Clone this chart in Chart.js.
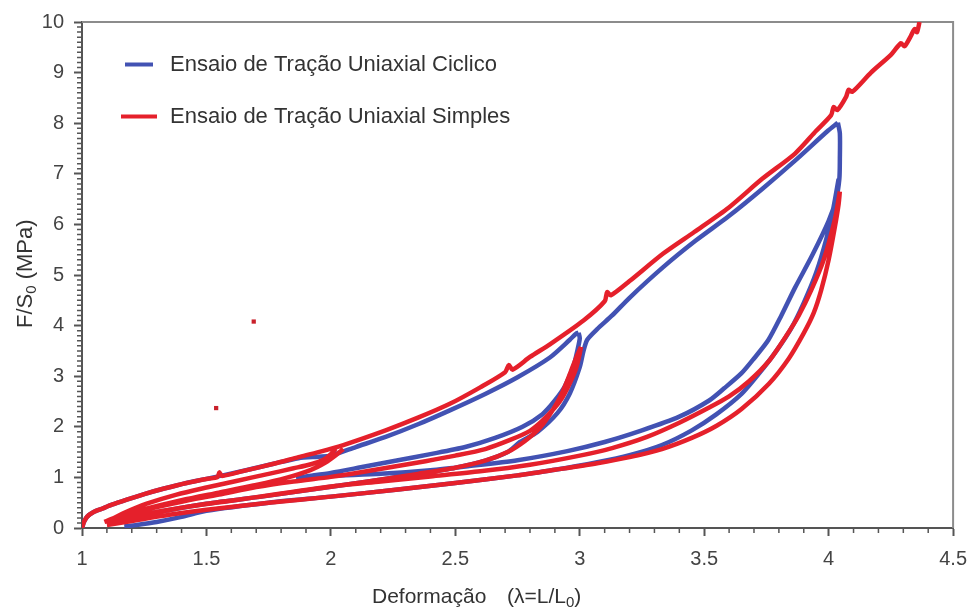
<!DOCTYPE html>
<html>
<head>
<meta charset="utf-8">
<script src="https://cdn.jsdelivr.net/npm/chart.js@4.4.1/dist/chart.umd.min.js"></script>
<style>
  html, body { margin: 0; padding: 0; background: #fff; }
  canvas { display: block; }
</style>
</head>
<body>
<canvas id="chart" width="978" height="608"></canvas>
<script>
// ---- Tick values ----
const xTickValues = [1, 1.5, 2, 2.5, 3, 3.5, 4, 4.5];
const yTickValues = [0, 1, 2, 3, 4, 5, 6, 7, 8, 9, 10];

// ---- Series labels ----
const cyclicLabel = 'Ensaio de Tração Uniaxial Ciclico';
const simpleLabel = 'Ensaio de Tração Uniaxial Simples';

// ---- Simple tensile test: monotonic loading curve [λ, F/S0] ----
const redEnvelope = [
  [1.000, 0.00], [1.008, 0.12], [1.02, 0.22], [1.045, 0.31], [1.08, 0.38], [1.12, 0.46],
  [1.18, 0.56], [1.25, 0.67], [1.33, 0.78], [1.42, 0.89], [1.50, 0.97], [1.545, 1.01],
  [1.552, 1.10], [1.562, 1.03], [1.65, 1.13], [1.77, 1.27], [1.87, 1.40], [1.95, 1.50],
  [2.05, 1.64], [2.22, 1.93], [2.35, 2.18], [2.48, 2.46], [2.60, 2.78], [2.70, 3.08],
  [2.715, 3.22], [2.73, 3.13], [2.80, 3.38], [2.88, 3.63], [3.015, 4.10], [3.10, 4.48],
  [3.11, 4.66], [3.125, 4.60], [3.20, 4.88], [3.334, 5.42], [3.46, 5.85], [3.598, 6.33],
  [3.733, 6.90], [3.865, 7.40], [3.95, 7.85], [4.01, 8.16], [4.02, 8.32], [4.035, 8.26],
  [4.07, 8.52], [4.08, 8.66], [4.095, 8.62], [4.17, 9.00], [4.25, 9.35], [4.29, 9.58],
  [4.305, 9.52], [4.33, 9.72], [4.345, 9.86], [4.355, 9.80], [4.365, 10.0]
];
// unloading / reloading branches of the simple test
const redLoop2Down = [
  [2.02, 1.57], [2.0, 1.46], [1.97, 1.35], [1.92, 1.26], [1.85, 1.18], [1.75, 1.07],
  [1.62, 0.93], [1.5, 0.80], [1.38, 0.66], [1.26, 0.48], [1.17, 0.30], [1.12, 0.18], [1.09, 0.12]
];
const redLoop2Up = [
  [1.09, 0.12], [1.15, 0.22], [1.25, 0.37], [1.4, 0.55], [1.55, 0.70], [1.7, 0.85],
  [1.82, 0.99], [1.92, 1.15], [1.98, 1.30], [2.02, 1.44], [2.05, 1.56]
];
const redUnload3 = [
  [3.005, 3.58], [3.0, 3.45], [2.985, 3.15], [2.96, 2.86], [2.93, 2.58], [2.90, 2.38],
  [2.85, 2.12], [2.80, 1.92], [2.72, 1.74], [2.62, 1.56], [2.50, 1.43], [2.38, 1.32],
  [2.25, 1.21], [2.12, 1.10], [2.0, 1.01], [1.85, 0.92], [1.7, 0.81], [1.55, 0.66],
  [1.4, 0.52], [1.28, 0.39], [1.18, 0.24], [1.12, 0.14], [1.10, 0.10]
];
const redReload3 = [
  [1.10, 0.08], [1.18, 0.18], [1.3, 0.31], [1.5, 0.48], [1.75, 0.64], [1.95, 0.78],
  [2.15, 0.92], [2.35, 1.07], [2.5, 1.19], [2.62, 1.33], [2.71, 1.50], [2.78, 1.72],
  [2.84, 1.98], [2.89, 2.32], [2.93, 2.68], [2.96, 3.04], [2.985, 3.36], [3.005, 3.58]
];
const redUnload4 = [
  [4.045, 6.65], [4.025, 6.10], [3.98, 5.30], [3.93, 4.70], [3.88, 4.20], [3.83, 3.80],
  [3.76, 3.30], [3.68, 2.90], [3.60, 2.60], [3.52, 2.38], [3.40, 2.08], [3.27, 1.80],
  [3.13, 1.58], [2.99, 1.42], [2.8, 1.25], [2.6, 1.12], [2.4, 1.02], [2.2, 0.92],
  [2.0, 0.82], [1.8, 0.68], [1.6, 0.54], [1.4, 0.40], [1.25, 0.27], [1.15, 0.16], [1.10, 0.11]
];
const redReload4 = [
  [1.10, 0.06], [1.2, 0.14], [1.35, 0.26], [1.5, 0.36], [1.75, 0.50], [2.0, 0.62],
  [2.27, 0.76], [2.5, 0.89], [2.75, 1.04], [2.9, 1.15], [3.07, 1.28], [3.2, 1.40],
  [3.33, 1.56], [3.45, 1.78], [3.55, 2.02], [3.65, 2.35], [3.76, 2.85], [3.84, 3.35],
  [3.90, 3.85], [3.94, 4.25], [3.97, 4.70], [4.0, 5.30], [4.025, 5.95], [4.04, 6.40], [4.045, 6.65]
];
// isolated readings of the simple test
const redStrayPoints = [[1.539, 2.37], [1.690, 4.08]];

// ---- Cyclic tensile test [λ, F/S0] ----
const blueLoad = [
  [1.000, 0.00], [1.008, 0.12], [1.02, 0.22], [1.045, 0.31], [1.08, 0.38], [1.12, 0.46],
  [1.18, 0.56], [1.25, 0.67], [1.33, 0.78], [1.42, 0.89], [1.50, 0.97], [1.65, 1.13],
  [1.77, 1.27], [1.87, 1.38], [1.95, 1.41], [2.0, 1.43], [2.1, 1.60], [2.22, 1.80],
  [2.35, 2.05], [2.48, 2.33], [2.62, 2.65], [2.75, 2.98], [2.88, 3.37], [2.96, 3.72],
  [2.985, 3.84], [2.995, 3.86]
];
const blueUnload3 = [
  [2.995, 3.86], [3.0, 3.75], [2.99, 3.50], [2.975, 3.20], [2.94, 2.80], [2.90, 2.52],
  [2.85, 2.25], [2.77, 2.00], [2.66, 1.78], [2.54, 1.60], [2.40, 1.46], [2.27, 1.34],
  [2.12, 1.20], [2.0, 1.09], [1.9, 1.02], [1.86, 0.99]
];
const blueReload3 = [
  [1.10, 0.08], [1.18, 0.18], [1.3, 0.31], [1.5, 0.48], [1.75, 0.64], [1.95, 0.78],
  [2.15, 0.92], [2.35, 1.07], [2.5, 1.19], [2.62, 1.33], [2.71, 1.50], [2.76, 1.70],
  [2.83, 1.90], [2.91, 2.27], [2.96, 2.66], [3.0, 3.18], [3.015, 3.50], [3.03, 3.72],
  [3.07, 3.93], [3.13, 4.20], [3.2, 4.55], [3.334, 5.15], [3.466, 5.68], [3.598, 6.16],
  [3.733, 6.70], [3.865, 7.26], [3.997, 7.85], [4.037, 8.01]
];
const blueUnload4 = [
  [4.037, 8.01], [4.045, 7.80], [4.045, 7.30], [4.043, 6.90], [4.03, 6.50], [4.0, 6.07],
  [3.935, 5.40], [3.865, 4.75], [3.81, 4.20], [3.757, 3.71], [3.70, 3.35], [3.65, 3.06],
  [3.58, 2.76], [3.52, 2.52], [3.40, 2.20], [3.25, 1.93], [3.10, 1.70], [2.95, 1.52],
  [2.75, 1.34], [2.55, 1.22], [2.40, 1.14], [2.2, 1.07], [2.0, 1.03], [1.88, 0.99]
];
const blueReload4 = [
  [1.17, 0.03], [1.22, 0.06], [1.3, 0.12], [1.4, 0.22], [1.5, 0.34], [1.75, 0.50],
  [2.0, 0.62], [2.27, 0.76], [2.5, 0.89], [2.75, 1.04], [2.9, 1.15], [3.07, 1.30],
  [3.2, 1.44], [3.33, 1.64], [3.45, 1.93], [3.55, 2.25], [3.65, 2.65], [3.72, 3.05],
  [3.79, 3.50], [3.85, 3.95], [3.90, 4.45], [3.95, 5.05], [3.99, 5.70], [4.02, 6.35], [4.04, 6.90]
];

// ---- colours ----
const blueColor = '#4252b3';
const redColor = '#e5202b';

// join branches into one path, breaking the line between branches
function joinBranches(branches) {
  const out = [];
  branches.forEach((branch, i) => {
    if (i > 0) out.push({ x: NaN, y: NaN });
    branch.forEach(([x, y]) => out.push({ x, y }));
  });
  return out;
}

const blueData = joinBranches([blueLoad, blueUnload3, blueReload3, blueUnload4, blueReload4]);
const redData = joinBranches([redLoop2Down, redLoop2Up, redUnload3, redReload3, redUnload4, redReload4, redEnvelope]);
const strayData = redStrayPoints.map(([x, y]) => ({ x, y }));

const FONT = "'Liberation Sans', Arial, sans-serif";

const decorations = {
  id: 'decorations',
  beforeDatasetsDraw(chart) {
    const { ctx, chartArea: a, scales: { x, y } } = chart;
    ctx.save();
    // frame on top and right
    ctx.strokeStyle = '#8c8c8c';
    ctx.lineWidth = 2;
    ctx.beginPath();
    ctx.moveTo(a.left, a.top);
    ctx.lineTo(a.right, a.top);
    ctx.lineTo(a.right, a.bottom);
    ctx.stroke();
    // minor ticks every 0.1
    ctx.strokeStyle = '#555';
    ctx.lineWidth = 1.5;
    ctx.beginPath();
    for (let k = 10; k <= 45; k++) {
      if (k % 5 === 0) continue;
      const px = x.getPixelForValue(k / 10);
      ctx.moveTo(px, a.bottom);
      ctx.lineTo(px, a.bottom + 5);
    }
    for (let k = 0; k <= 100; k++) {
      if (k % 10 === 0) continue;
      const py = y.getPixelForValue(k / 10);
      ctx.moveTo(a.left - 5, py);
      ctx.lineTo(a.left, py);
    }
    ctx.stroke();
    ctx.restore();
  },
  afterDraw(chart) {
    const { ctx } = chart;
    ctx.save();
    // legend
    const entries = [
      { ds: chart.data.datasets[1], x0: 125, x1: 153, y: 64.5 },
      { ds: chart.data.datasets[0], x0: 121, x1: 157, y: 116.5 }
    ];
    entries.forEach(e => {
      ctx.strokeStyle = e.ds.borderColor;
      ctx.lineWidth = 4;
      ctx.beginPath();
      ctx.moveTo(e.x0, e.y);
      ctx.lineTo(e.x1, e.y);
      ctx.stroke();
      ctx.fillStyle = '#333';
      ctx.font = '22px ' + FONT;
      ctx.textBaseline = 'middle';
      ctx.textAlign = 'left';
      ctx.fillText(e.ds.label, 170, e.y);
    });

    // x axis title
    ctx.fillStyle = '#333';
    ctx.textBaseline = 'alphabetic';
    ctx.textAlign = 'left';
    ctx.font = '21px ' + FONT;
    ctx.fillText('Deformação', 372, 603);
    let cx = 507;
    ctx.fillText('(λ=L/L', cx, 603);
    cx += ctx.measureText('(λ=L/L').width;
    ctx.font = '15px ' + FONT;
    ctx.fillText('0', cx, 607);
    cx += ctx.measureText('0').width;
    ctx.font = '21px ' + FONT;
    ctx.fillText(')', cx, 603);

    // y axis title, rotated
    ctx.translate(32, 328);
    ctx.rotate(-Math.PI / 2);
    let ty = 0;
    ctx.font = '22px ' + FONT;
    ctx.fillText('F/S', ty, 0);
    ty += ctx.measureText('F/S').width;
    ctx.font = '15px ' + FONT;
    ctx.fillText('0', ty, 4);
    ty += ctx.measureText('0').width;
    ctx.font = '22px ' + FONT;
    ctx.fillText(' (MPa)', ty, 0);
    ctx.restore();
  }
};

new Chart(document.getElementById('chart'), {
  type: 'scatter',
  data: {
    datasets: [
      {
        label: simpleLabel,
        data: redData,
        showLine: true,
        borderColor: redColor,
        backgroundColor: redColor,
        borderWidth: 4.5,
        pointRadius: 0,
        tension: 0.25,
        spanGaps: false,
        order: 1
      },
      {
        label: cyclicLabel,
        data: blueData,
        showLine: true,
        borderColor: blueColor,
        backgroundColor: blueColor,
        borderWidth: 4.5,
        pointRadius: 0,
        tension: 0.25,
        spanGaps: false,
        order: 2
      },
      {
        label: simpleLabel,
        data: strayData,
        showLine: false,
        pointStyle: 'rect',
        pointRadius: 3,
        borderWidth: 0,
        backgroundColor: '#c9202b',
        order: 0
      }
    ]
  },
  options: {
    responsive: false,
    devicePixelRatio: 1,
    animation: false,
    layout: { padding: { left: 0, top: 21, right: 19, bottom: 0 } },
    plugins: {
      legend: { display: false },
      tooltip: { enabled: false }
    },
    scales: {
      x: {
        type: 'linear',
        min: 1,
        max: 4.5,
        afterBuildTicks: s => { s.ticks = xTickValues.map(v => ({ value: v })); },
        afterFit: s => { s.height = 80; },
        ticks: {
          color: '#444',
          font: { family: FONT, size: 20 },
          padding: 11,
          maxRotation: 0,
          callback: v => String(v)
        },
        grid: { display: true, drawOnChartArea: false, drawTicks: true, tickLength: 8, tickColor: '#555', tickWidth: 2 },
        border: { display: true, color: '#555', width: 2 }
      },
      y: {
        type: 'linear',
        min: 0,
        max: 10,
        afterBuildTicks: s => { s.ticks = yTickValues.map(v => ({ value: v })); },
        afterFit: s => { s.width = 82; },
        ticks: {
          color: '#444',
          font: { family: FONT, size: 20 },
          padding: 10,
          callback: v => String(v)
        },
        grid: { display: true, drawOnChartArea: false, drawTicks: true, tickLength: 8, tickColor: '#555', tickWidth: 2 },
        border: { display: true, color: '#555', width: 2 }
      }
    }
  },
  plugins: [decorations]
});
</script>
</body>
</html>
